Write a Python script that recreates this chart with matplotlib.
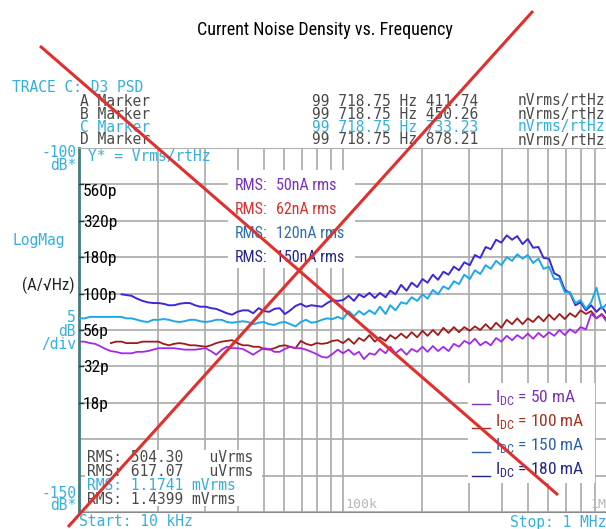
import numpy as np
import matplotlib
matplotlib.use('Agg')
import matplotlib.pyplot as plt
from matplotlib.lines import Line2D
from matplotlib.patches import Rectangle

nan = float('nan')

# frecuencias (kHz) leidas sobre el eje log 10k..1M
freq_lo_khz = [10, 10.5, 11, 11.5, 12, 12.6, 13.2, 13.8, 14.5, 15.1, 15.8, 16.6, 17.4, 18.2, 19.1,
               20, 20.9, 21.9, 22.9, 24, 25.1, 26.3, 27.5, 28.8, 30.2, 31.6, 33.1, 34.7, 36.3, 38,
               39.8, 41.7, 43.7, 45.7, 47.9, 50.1, 52.5, 55, 57.5, 60.3, 63.1, 66.1, 69.2, 72.4,
               75.9, 79.4, 83.2, 87.1, 91.2, 95.5]
freq_hi_khz = [100, 105, 110, 115, 120, 126, 132, 138, 145, 151, 158, 166, 174, 182, 191, 200,
               209, 219, 229, 240, 251, 263, 275, 288, 302, 316, 331, 347, 363, 380, 398, 417,
               437, 457, 479, 501, 525, 550, 575, 603, 631, 661, 692, 724, 759, 794, 832, 871,
               912, 955, 1000]

# trazas en dB* (Vrms/rtHz del analizador)
idc_180_db = [nan] * 8 + [
    -120.1, -120.2, -120.3, -120.7, -121.0, -121.2, -121.3, -121.3, -121.4, -121.6, -121.6, -121.4,
    -121.3, -121.3, -121.6, -121.8, -121.8, -122.0, -122.1, -122.4, -122.7, -122.9, -122.5, -122.3,
    -122.3, -122.7, -122.0, -122.4, -122.5, -122.1, -122.0, -122.8, -122.3, -121.7, -121.4, -121.8,
    -121.6, -121.7, -121.8, -121.3, -120.9, -121.0,
    -120.9, -120.3, -121.0, -120.1, -120.5, -119.9, -120.6, -119.9, -120.5, -119.6,
    -120.1, -118.8, -119.6, -118.5, -119.1, -118.0, -118.5, -117.4, -118.1, -117.0,
    -117.4, -116.3, -116.8, -115.7, -116.1, -114.7, -115.1, -113.6, -113.9, -112.6,
    -113.0, -112.0, -112.6, -112.1, -113.2, -112.5, -113.7, -113.6, -115.1, -115.2,
    -117.2, -117.6, -119.5, -119.9, -121.6, -121.2, -122.3, -121.6, -122.5, -121.8, -122.8]

idc_150_db = [
    -123.4, -123.4, -123.2, -123.2, -123.2, -123.2, -123.2, -123.2, -123.2, -123.4, -123.4, -123.6,
    -123.8, -123.9, -123.6, -123.6, -123.5, -123.6, -123.8, -123.9, -123.8, -123.6, -123.6, -123.8,
    -123.9, -123.8, -123.6, -123.6, -123.9, -124.0, -123.9, -123.8, -123.9, -124.2, -124.0, -123.9,
    -124.2, -124.3, -124.0, -123.9, -124.2, -124.5, -123.9, -123.6, -124.0, -123.9, -123.6, -123.4,
    -123.5, -123.2,
    -123.5, -122.4, -123.1, -122.4, -122.9, -122.3, -122.8, -121.8, -122.8, -121.6,
    -122.3, -121.2, -121.4, -120.5, -121.0, -120.1, -120.7, -119.5, -120.1, -119.0,
    -119.4, -118.3, -118.7, -117.4, -118.0, -116.8, -117.3, -116.1, -116.6, -115.5,
    -116.1, -115.0, -115.5, -114.6, -115.2, -114.7, -115.8, -115.2, -116.6, -116.3,
    -118.0, -118.0, -119.8, -119.8, -121.3, -120.9, -122.1, -121.2, -119.2, -122.1, -121.4]

idc_100_db = [nan] * 6 + [
    -126.8, -126.6, -126.6, -126.8, -126.8, -126.8, -126.6, -126.6, -126.6, -126.6,
    -126.9, -127.1, -126.9, -126.8, -126.9, -127.1, -127.1, -127.2, -127.3, -127.1,
    -126.8, -126.6, -126.5, -126.4, -126.8, -127.1, -127.1, -127.3, -127.3, -127.6,
    -127.7, -127.5, -127.2, -127.1, -127.3, -127.5, -126.5, -126.9, -127.1, -126.8,
    -126.9, -126.8, -126.5, -126.4,
    -126.8, -126.2, -126.9, -126.1, -126.5, -125.7, -126.6, -126.0, -126.5, -125.7,
    -126.2, -125.5, -126.1, -125.3, -126.0, -125.1, -125.8, -125.0, -125.7, -124.7,
    -125.4, -124.6, -125.3, -124.6, -125.1, -124.5, -125.0, -124.2, -124.9, -124.0,
    -124.7, -123.6, -124.2, -123.4, -124.2, -123.4, -123.9, -123.1, -123.8, -122.9,
    -123.6, -122.8, -123.5, -122.7, -123.2, -122.3, -122.8, -122.4, -123.4, -122.8, -123.6]

idc_50_db = [
    -126.6, -126.6, -126.8, -126.9, -127.2, -127.6, -127.9, -128.0, -128.2, -128.2,
    -128.2, -128.0, -128.0, -127.9, -127.7, -127.5, -127.5, -127.5, -127.5, -127.6,
    -127.7, -127.7, -127.7, -127.6, -127.5, -127.9, -128.4, -127.7, -127.3, -127.5,
    -127.5, -127.6, -128.0, -128.4, -127.9, -127.5, -127.6, -128.0, -128.0, -127.6,
    -127.3, -127.5, -127.5, -127.7, -128.0, -128.3, -128.7, -128.8, -128.3, -127.7,
    -128.2, -127.7, -128.4, -128.0, -129.0, -128.2, -128.4, -127.6, -128.2, -127.3,
    -128.2, -127.6, -128.4, -127.6, -128.0, -127.3, -128.0, -127.2, -127.9, -127.3,
    -127.9, -126.9, -127.3, -126.5, -126.9, -126.2, -127.1, -126.6, -127.1, -126.1,
    -126.6, -125.8, -126.4, -125.7, -126.2, -125.5, -126.2, -125.4, -126.0, -125.3,
    -125.8, -125.0, -125.7, -124.9, -125.4, -124.6, -124.9, -122.8, -123.4, -122.9, -123.9]

ytick_db = [-105, -110, -115, -120, -125, -130, -135]
ytick_labels = ['560p', '320p', '180p', '100p', '56p', '32p', '18p']

rms_values = ['50nA rms', '62nA rms', '120nA rms', '150nA rms']
rms_colors = ['#7a2fbf', '#d8302c', '#2f6fae', '#23278a']
idc_labels = ['50 mA', '100 mA', '150 mA', '180 mA']
idc_text_colors = ['#7a30b8', '#a8301f', '#2a62a8', '#22248a']

marker_rows = [('A Marker', '99 718.75 Hz 411.74', '#4a4a4a'),
               ('B Marker', '99 718.75 Hz 450.26', '#4a4a4a'),
               ('C Marker', '99 718.75 Hz 733.23', '#35b0dc'),
               ('D Marker', '99 718.75 Hz 878.21', '#4a4a4a')]
rms_rows = [('RMS: 504.30   uVrms', '#4a4a4a'),
            ('RMS: 617.07   uVrms', '#4a4a4a'),
            ('RMS: 1.1741 mVrms', '#35b0dc'),
            ('RMS: 1.4399 mVrms', '#4a4a4a')]

W, H = 606, 529
CYAN = '#35b0dc'
MONO = 'DejaVu Sans Mono'
MS = 10.5
COND = ['Roboto Condensed', 'DejaVu Sans']


def fx(x):
    return x / W


def fy(y):
    return 1 - y / H


fig = plt.figure(figsize=(W / 100, H / 100), dpi=100)
ax = fig.add_axes([fx(79), fy(512), 528 / W, 364 / H])

freq_hz = np.array(freq_lo_khz + freq_hi_khz) * 1e3
ax.plot(freq_hz, idc_180_db, color='#3c28d8', lw=1.4, zorder=3)
ax.plot(freq_hz, idc_150_db, color='#1ea8e8', lw=1.4, zorder=3)
ax.plot(freq_hz, idc_100_db, color='#a01818', lw=1.3, zorder=3)
ax.plot(freq_hz, idc_50_db, color='#a428e8', lw=1.3, zorder=3)

ax.set_xscale('log')
ax.set_xlim(1e4, 1e6)
ax.set_ylim(-150, -100)
ax.set_xticks([1e4, 1e5, 1e6])
ax.set_xticks([m * 10 ** k for k in (4, 5) for m in range(2, 10)], minor=True)
ax.set_yticks(np.arange(-150, -99, 5))
ax.tick_params(which='both', length=0, labelleft=False, labelbottom=False)
ax.grid(which='both', color='#a9a9a9', lw=1.2)
ax.set_axisbelow(True)
ax.spines['right'].set_visible(False)
ax.spines['left'].set_color('#427c7c')
ax.spines['left'].set_linewidth(2)
ax.spines['top'].set_color('#b0b0b0')
ax.spines['bottom'].set_color('#8a8a8a')

# cajas blancas detras de los textos
for (bx, by, bw, bh) in [(228, 170, 127, 98), (468, 383, 127, 100), (85, 450, 177, 56)]:
    ax.add_patch(Rectangle(((bx - 79) / 528, (512 - by - bh) / 364), bw / 528, bh / 364,
                           transform=ax.transAxes, facecolor='white', edgecolor='none', zorder=2.5))

# etiquetas del eje y dentro del grafico
for d, lab in zip(ytick_db, ytick_labels):
    ypx = 148 + (-100 - d) * 364 / 50
    if lab == '560p':
        ypx += 6
    fig.text(fx(83), fy(ypx + 6), lab, family=COND, fontsize=12.5, color='black', va='baseline', zorder=6)
    ax.plot([0, 4 / 528], [d, d], transform=ax.get_yaxis_transform(), color='#333333', lw=1, zorder=4)

# leyenda RMS
for i, (val, c) in enumerate(zip(rms_values, rms_colors)):
    base = 190 + i * 24
    fig.text(fx(235), fy(base), 'RMS:', family=COND, fontsize=11.5, color=c, va='baseline', zorder=6)
    fig.text(fx(276), fy(base), val, family=COND, fontsize=11.5, color=c, va='baseline', zorder=6)

# leyenda IDC
for i, (lab, c) in enumerate(zip(idc_labels, idc_text_colors)):
    yy = 395 + i * 24
    fig.add_artist(Line2D([fx(472), fx(490)], [fy(yy + 9), fy(yy + 9)], color=c, lw=1))
    fig.text(fx(495), fy(yy + 7), r'I$_\mathregular{DC}$ = ' + lab, family=COND, fontsize=12.5,
             color=c, va='baseline', zorder=6)

# textos del analizador
fig.text(fx(12), fy(88), 'TRACE C: D3 PSD', color=CYAN, family=MONO, fontsize=MS, va='center')
for i, (name, val, c) in enumerate(marker_rows):
    yy = 101 + i * 13
    fig.text(fx(80), fy(yy), name, color=c, family=MONO, fontsize=MS, va='center')
    fig.text(fx(312), fy(yy), val, color=c, family=MONO, fontsize=MS, va='center')
    fig.text(fx(518), fy(yy), 'nVrms/rtHz', color=c, family=MONO, fontsize=MS, va='center')

for txt, yy in [('-100', 152), ('dB*', 166), ('5', 318), ('dB', 331), ('/div', 345),
                ('-150', 493), ('dB*', 506)]:
    fig.text(fx(76), fy(yy), txt, color=CYAN, family=MONO, fontsize=MS, va='center', ha='right')
fig.text(fx(12), fy(240), 'LogMag', color=CYAN, family=MONO, fontsize=MS, va='center')
fig.text(fx(22), fy(290), '(A/√Hz)', family=COND, fontsize=12, color='#222222', va='baseline')
fig.text(fx(88), fy(157), 'Y* = Vrms/rtHz', color=CYAN, family=MONO, fontsize=MS, va='center')

for i, (txt, c) in enumerate(rms_rows):
    fig.text(fx(87), fy(458 + i * 14), txt, color=c, family=MONO, fontsize=MS, va='center', zorder=5)

fig.text(fx(345), fy(505), '100k', color='#b8b8b8', family=MONO, fontsize=9.5, va='center')
fig.text(fx(590), fy(505), '1M', color='#b8b8b8', family=MONO, fontsize=9.5, va='center')
fig.text(fx(79), fy(522), 'Start: 10 kHz', color=CYAN, family=MONO, fontsize=MS, va='center')
fig.text(fx(606), fy(522), 'Stop: 1 MHz', color=CYAN, family=MONO, fontsize=MS, va='center', ha='right')

fig.text(fx(325), fy(35), 'Current Noise Density vs. Frequency', family=COND, fontsize=13,
         color='black', ha='center', va='baseline')

# la X roja encima de todo
for (x0, y0, x1, y1) in [(40, 46, 558, 495), (533, 11, 68, 527)]:
    fig.add_artist(Line2D([fx(x0), fx(x1)], [fy(y0), fy(y1)], color='#e0302e', lw=2.2,
                          solid_capstyle='butt', zorder=10))

fig.savefig('out.png', dpi=100)
